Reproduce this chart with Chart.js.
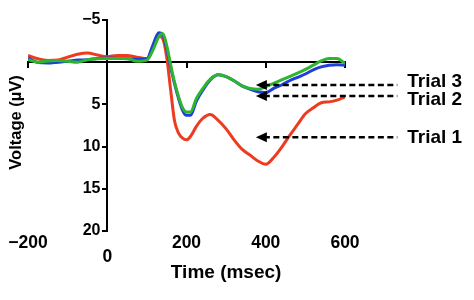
<!DOCTYPE html>
<html>
<head>
<meta charset="utf-8">
<script src="https://cdn.jsdelivr.net/npm/chart.js@4/dist/chart.umd.min.js"></script>
<style>
  html, body { margin: 0; padding: 0; background: #fff; }
  canvas { display: block; }
</style>
</head>
<body>
<canvas id="c" width="474" height="300"></canvas>
<script>
// ---- data ----
const times = [-200,-175,-150,-125,-100,-75,-50,-25,0,25,50,75,100,115,130,140,150,160,170,180,190,200,210,225,240,260,280,300,320,340,360,380,400,420,440,460,480,500,520,540,560,580,600];
const trial1 = [-0.8,-0.4,-0.2,-0.25,-0.6,-0.95,-1.1,-0.85,-0.65,-0.8,-0.8,-0.6,-0.4,-1.8,-3.1,-2.8,-0.6,3.3,7.0,8.4,9.0,9.2,8.8,7.6,6.7,6.2,6.9,7.9,9.2,10.3,11.0,11.7,12.1,11.3,10.1,8.7,7.4,6.1,5.4,4.8,4.7,4.5,4.1];
const trial2 = [-0.5,0.05,0.1,0.0,-0.1,-0.25,-0.3,-0.45,-0.5,-0.45,-0.4,-0.35,-0.4,-2.0,-3.5,-3.3,-1.6,0.6,2.6,4.3,5.7,6.3,6.3,4.6,3.4,2.1,1.5,1.7,2.2,2.8,3.2,3.5,3.6,3.1,2.7,2.2,1.8,1.4,0.9,0.55,0.35,0.3,0.35];
const trial3 = [-0.3,0.0,-0.15,-0.2,-0.1,0.0,-0.3,-0.4,-0.45,-0.45,-0.45,-0.1,-0.25,-1.4,-3.0,-3.4,-2.0,0.3,2.4,4.1,5.4,5.9,5.9,4.3,3.2,2.0,1.5,1.7,2.2,2.8,3.1,3.2,2.9,2.5,2.1,1.7,1.3,0.85,0.35,-0.15,-0.45,-0.45,0.15];
const seriesNames = ['Trial 1', 'Trial 2', 'Trial 3'];
const seriesColors = ['#ee3b1f', '#1f3fdc', '#2db52d'];
const xTicks = [-200, 0, 200, 400, 600];
const yTicks = [-5, 0, 5, 10, 15, 20];
const xTitle = 'Time (msec)';
const yTitle = 'Voltage (µV)';
// annotation arrows (data units)
const annotArrowY = [8.9, 4.0, 2.7];
const annotTextY = [8.9, 4.45, 2.35];
const annotTipX = 375, annotEndX = 732, annotTextX = 757;

const FONT = '"Liberation Sans", Arial, Helvetica, sans-serif';

function toXY(vals) { return times.map((t, i) => ({x: t, y: vals[i]})); }
const allSeries = [trial1, trial2, trial3];

const datasets = allSeries.map((vals, i) => ({
  label: seriesNames[i],
  data: toXY(vals),
  borderColor: seriesColors[i],
  backgroundColor: seriesColors[i],
  borderWidth: 3,
  pointRadius: 0,
  fill: false,
  cubicInterpolationMode: 'monotone',
  order: 3 - i
}));

function fmt(v) { return v < 0 ? '\u2212' + Math.abs(v) : String(v); }

const annotPlugin = {
  id: 'annot',
  afterDraw(chart) {
    const ctx = chart.ctx;
    const xs = chart.scales.x, ys = chart.scales.y;
    const area = chart.chartArea;
    ctx.save();
    // axis titles
    ctx.fillStyle = '#000';
    ctx.font = 'bold 19px ' + FONT;
    ctx.textAlign = 'center';
    ctx.textBaseline = 'middle';
    const xc = (xs.getPixelForValue(0) + xs.getPixelForValue(600)) / 2;
    ctx.fillText(xTitle, xc, area.bottom + 42);
    ctx.save();
    ctx.font = 'bold 16.5px ' + FONT;
    const yc = (area.top + area.bottom) / 2 - 3;
    ctx.translate(16, yc);
    ctx.rotate(-Math.PI / 2);
    ctx.fillText(yTitle, 0, 0);
    ctx.restore();
    // arrows
    ctx.strokeStyle = '#000';
    ctx.lineWidth = 2.5;
    for (let i = 0; i < seriesNames.length; i++) {
      const tx = xs.getPixelForValue(annotTipX);
      const ty = ys.getPixelForValue(annotArrowY[i]);
      const ex = xs.getPixelForValue(annotEndX);
      ctx.setLineDash([6, 3.5]);
      ctx.beginPath();
      ctx.moveTo(tx + 8, ty);
      ctx.lineTo(ex, ty);
      ctx.stroke();
      ctx.setLineDash([]);
      ctx.beginPath();
      ctx.moveTo(tx, ty);
      ctx.lineTo(tx + 11, ty - 5);
      ctx.lineTo(tx + 11, ty + 5);
      ctx.closePath();
      ctx.fill();
      ctx.font = 'bold 19px ' + FONT;
      ctx.textAlign = 'left';
      ctx.textBaseline = 'middle';
      ctx.fillText(seriesNames[i], xs.getPixelForValue(annotTextX), ys.getPixelForValue(annotTextY[i]));
    }
    ctx.restore();
  }
};

new Chart(document.getElementById('c'), {
  type: 'line',
  data: { datasets },
  plugins: [annotPlugin],
  options: {
    responsive: false,
    devicePixelRatio: 1,
    animation: false,
    layout: { padding: { left: 28, right: 129, top: 20, bottom: 35 } },
    plugins: { legend: { display: false }, tooltip: { enabled: false } },
    scales: {
      x: {
        type: 'linear',
        position: { y: 0 },
        min: -200, max: 600,
        afterBuildTicks: (s) => { s.ticks = xTicks.map(v => ({value: v})); },
        ticks: { display: false },
        grid: { drawOnChartArea: false, drawTicks: true, tickLength: 5, color: '#000', lineWidth: 2 },
        border: { display: true, color: '#000', width: 2 }
      },
      x2: {
        type: 'linear',
        position: 'bottom',
        min: -200, max: 600,
        afterBuildTicks: (s) => { s.ticks = xTicks.map(v => ({value: v})); },
        afterFit: (s) => { s.height = 34; },
        ticks: {
          padding: 5.5,
          color: '#000',
          font: { family: FONT, size: 17.5, weight: 'bold', lineHeight: '14px' },
          callback: (v) => v === 0 ? ['', '0'] : fmt(v),
          maxRotation: 0, autoSkip: false
        },
        grid: { display: false, drawTicks: false },
        border: { display: false }
      },
      y: {
        type: 'linear',
        position: { x: 0 },
        reverse: true,
        min: -5, max: 20,
        afterBuildTicks: (s) => { s.ticks = yTicks.map(v => ({value: v})); },
        ticks: { display: false },
        grid: { drawOnChartArea: false, drawTicks: true, tickLength: 4, color: '#000', lineWidth: 2 },
        border: { display: true, color: '#000', width: 2 }
      },
      yLabels: {
        type: 'linear',
        position: { x: -17 },
        reverse: true,
        min: -5, max: 20,
        afterBuildTicks: (s) => { s.ticks = yTicks.map(v => ({value: v})); },
        ticks: {
          padding: 0,
          color: '#000',
          font: { family: FONT, size: 16, weight: 'bold' },
          callback: (v) => v === 0 ? '' : fmt(v)
        },
        grid: { display: false, drawTicks: false },
        border: { display: false }
      }
    }
  }
});
</script>
</body>
</html>
